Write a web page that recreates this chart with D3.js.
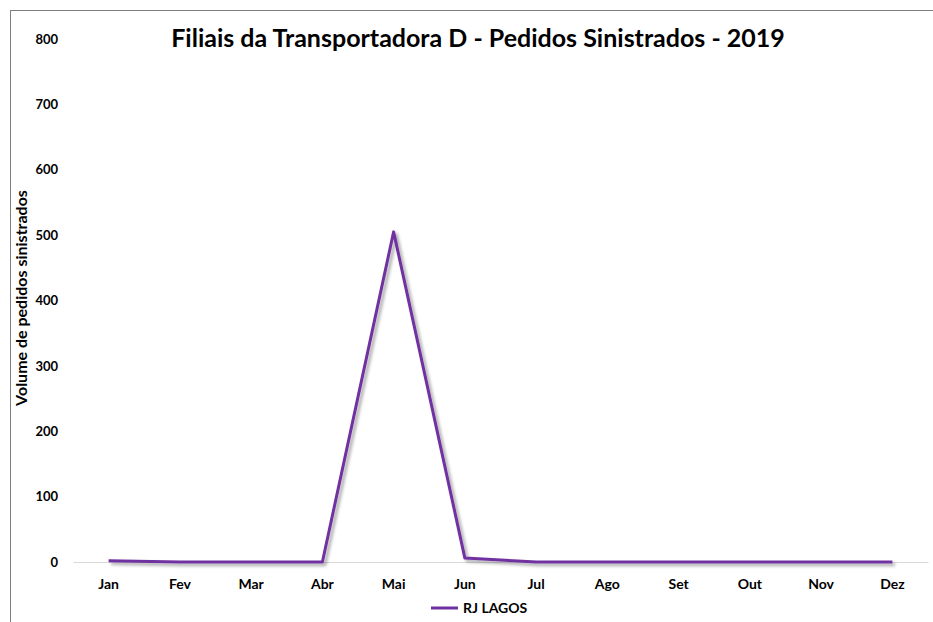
<!DOCTYPE html>
<html>
<head>
<meta charset="utf-8">
<script src="https://cdn.jsdelivr.net/npm/d3@7"></script>
<style>
  body { margin: 0; background: #fff; }
  text { font-family: Lato, "Open Sans", sans-serif; font-weight: bold; fill: #000; }
</style>
</head>
<body>
<div id="chart"></div>
<script>
(function() {
  // data
  let months = ['Jan', 'Fev', 'Mar', 'Abr', 'Mai', 'Jun', 'Jul', 'Ago', 'Set', 'Out', 'Nov', 'Dez']
  let rjLagos = [2, 0, 0, 0, 505, 6, 0, 0, 0, 0, 0, 0]
  let yTicks = [0, 100, 200, 300, 400, 500, 600, 700, 800]
  let seriesName = 'RJ LAGOS'

  let margin = { top: 39, left: 73, right: 5, bottom: 60 }
  let width = 933 - margin.left - margin.right
  let height = 622 - margin.top - margin.bottom

  let svgRoot = d3.select('#chart')
    .append('svg')
    .attr('width', 933)
    .attr('height', 622)

  // chart frame, cut off at right and bottom like the reference
  svgRoot.append('rect')
    .attr('x', 10.5)
    .attr('y', 10.5)
    .attr('width', 960)
    .attr('height', 660)
    .attr('fill', 'none')
    .attr('stroke', '#7f7f7f')
    .attr('stroke-width', 1)

  let defs = svgRoot.append('defs')
  let shadow = defs.append('filter')
    .attr('id', 'shadow')
    .attr('x', '-10%').attr('y', '-10%')
    .attr('width', '130%').attr('height', '130%')
  shadow.append('feDropShadow')
    .attr('dx', 2.5)
    .attr('dy', 2.5)
    .attr('stdDeviation', 1.6)
    .attr('flood-color', '#000')
    .attr('flood-opacity', 0.35)

  let svg = svgRoot.append('g')
    .attr('transform', 'translate(' + margin.left + ',' + margin.top + ')')

  let xPositionScale = d3.scaleBand().domain(months).range([0, width])
  let yPositionScale = d3.scaleLinear().domain([0, 800]).range([height, 0])

  // y tick labels (no axis line, no gridlines)
  let yAxis = d3.axisLeft(yPositionScale).tickValues(yTicks).tickSize(0).tickPadding(15)
  svg.append('g')
    .attr('class', 'axis y-axis')
    .call(yAxis)
    .call(g => g.select('.domain').remove())
    .selectAll('text')
    .attr('font-size', 13)

  // x axis
  let xAxis = d3.axisBottom(xPositionScale).tickSize(0).tickPadding(17)
  svg.append('g')
    .attr('class', 'axis x-axis')
    .attr('transform', 'translate(0,' + height + ')')
    .call(xAxis)
    .call(g => g.select('.domain').attr('stroke', '#d9d9d9').attr('stroke-width', 1.2))
    .selectAll('text')
    .attr('font-size', 14)

  svg.selectAll('.axis text').style('font-family', 'Lato, sans-serif').style('font-weight', 'bold')

  let line = d3.line()
    .x((d, i) => xPositionScale(months[i]) + xPositionScale.bandwidth() / 2)
    .y(d => yPositionScale(d))

  svg.append('path')
    .datum(rjLagos)
    .attr('d', line)
    .attr('fill', 'none')
    .attr('stroke', '#7030a0')
    .attr('stroke-width', 3)
    .attr('stroke-linejoin', 'round')
    .attr('filter', 'url(#shadow)')

  // title
  svgRoot.append('text')
    .attr('x', 478)
    .attr('y', 47)
    .attr('text-anchor', 'middle')
    .attr('font-size', 25)
    .text('Filiais da Transportadora D - Pedidos Sinistrados - 2019')

  // y axis title
  svgRoot.append('text')
    .attr('transform', 'translate(27,298) rotate(-90)')
    .attr('text-anchor', 'middle')
    .attr('font-size', 16)
    .text('Volume de pedidos sinistrados')

  // legend
  let legend = svgRoot.append('g').attr('transform', 'translate(431,608)')
  legend.append('line')
    .attr('x1', 0).attr('x2', 27)
    .attr('y1', 0).attr('y2', 0)
    .attr('stroke', '#7030a0')
    .attr('stroke-width', 3)
  legend.append('text')
    .attr('x', 32)
    .attr('y', 5)
    .attr('font-size', 14)
    .text(seriesName)
})()
</script>
</body>
</html>
